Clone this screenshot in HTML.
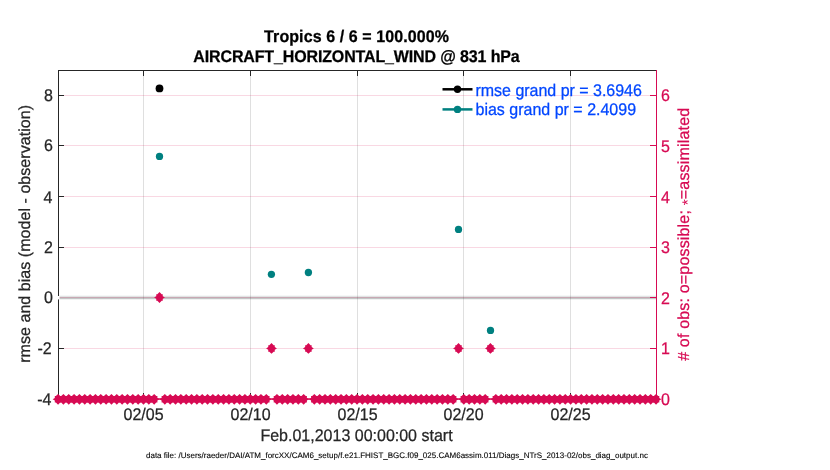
<!DOCTYPE html>
<html><head><meta charset="utf-8"><title>Tropics AIRCRAFT_HORIZONTAL_WIND @ 831 hPa</title>
<style>
html,body{margin:0;padding:0;background:#fff;}
body{width:830px;height:470px;overflow:hidden;}
svg{display:block;will-change:transform;}
text{text-rendering:geometricPrecision;font-family:"Liberation Sans",Arial,Helvetica,sans-serif;}
</style></head><body>
<svg width="830" height="470" viewBox="0 0 830 470">
<rect width="830" height="470" fill="#fff"/>
<rect x="59" y="295" width="597" height="1" fill="#f6f8f8"/>
<rect x="59" y="296" width="597" height="1" fill="#e1e4e4"/>
<rect x="59" y="297" width="597" height="1" fill="#c5c6c6"/>
<rect x="59" y="298" width="597" height="1" fill="#c3c6c6"/>
<rect x="59" y="299" width="597" height="1" fill="#f0f2f2"/>
<line x1="143.5" y1="71" x2="143.5" y2="399" stroke="#262626" stroke-opacity="0.15" stroke-width="1"/>
<line x1="250.5" y1="71" x2="250.5" y2="399" stroke="#262626" stroke-opacity="0.15" stroke-width="1"/>
<line x1="357.5" y1="71" x2="357.5" y2="399" stroke="#262626" stroke-opacity="0.15" stroke-width="1"/>
<line x1="463.5" y1="71" x2="463.5" y2="399" stroke="#262626" stroke-opacity="0.15" stroke-width="1"/>
<line x1="570.5" y1="71" x2="570.5" y2="399" stroke="#262626" stroke-opacity="0.15" stroke-width="1"/>
<line x1="59" y1="95.5" x2="656" y2="95.5" stroke="#d70a53" stroke-opacity="0.16" stroke-width="1"/>
<line x1="59" y1="145.5" x2="656" y2="145.5" stroke="#d70a53" stroke-opacity="0.16" stroke-width="1"/>
<line x1="59" y1="196.5" x2="656" y2="196.5" stroke="#d70a53" stroke-opacity="0.16" stroke-width="1"/>
<line x1="59" y1="247.5" x2="656" y2="247.5" stroke="#d70a53" stroke-opacity="0.16" stroke-width="1"/>
<line x1="59" y1="297.5" x2="656" y2="297.5" stroke="#d70a53" stroke-opacity="0.16" stroke-width="1"/>
<line x1="59" y1="348.5" x2="656" y2="348.5" stroke="#d70a53" stroke-opacity="0.16" stroke-width="1"/>
<line x1="58" y1="70.5" x2="657" y2="70.5" stroke="#262626" stroke-width="1"/>
<line x1="58.5" y1="70" x2="58.5" y2="400" stroke="#262626" stroke-width="1"/>
<line x1="59" y1="95.5" x2="64" y2="95.5" stroke="#262626" stroke-width="1"/>
<line x1="59" y1="145.5" x2="64" y2="145.5" stroke="#262626" stroke-width="1"/>
<line x1="59" y1="196.5" x2="64" y2="196.5" stroke="#262626" stroke-width="1"/>
<line x1="59" y1="247.5" x2="64" y2="247.5" stroke="#262626" stroke-width="1"/>
<line x1="59" y1="348.5" x2="64" y2="348.5" stroke="#262626" stroke-width="1"/>
<rect x="57.5" y="296" width="2" height="3.4" fill="#fff"/>
<line x1="143.5" y1="71" x2="143.5" y2="76" stroke="#262626" stroke-width="1"/>
<line x1="143.5" y1="393" x2="143.5" y2="399" stroke="#262626" stroke-width="1"/>
<line x1="250.5" y1="71" x2="250.5" y2="76" stroke="#262626" stroke-width="1"/>
<line x1="250.5" y1="393" x2="250.5" y2="399" stroke="#262626" stroke-width="1"/>
<line x1="357.5" y1="71" x2="357.5" y2="76" stroke="#262626" stroke-width="1"/>
<line x1="357.5" y1="393" x2="357.5" y2="399" stroke="#262626" stroke-width="1"/>
<line x1="463.5" y1="71" x2="463.5" y2="76" stroke="#262626" stroke-width="1"/>
<line x1="463.5" y1="393" x2="463.5" y2="399" stroke="#262626" stroke-width="1"/>
<line x1="570.5" y1="71" x2="570.5" y2="76" stroke="#262626" stroke-width="1"/>
<line x1="570.5" y1="393" x2="570.5" y2="399" stroke="#262626" stroke-width="1"/>
<line x1="656.5" y1="70" x2="656.5" y2="400" stroke="#d70a53" stroke-width="1"/>
<line x1="650" y1="95.5" x2="656" y2="95.5" stroke="#d70a53" stroke-width="1"/>
<line x1="650" y1="145.5" x2="656" y2="145.5" stroke="#d70a53" stroke-width="1"/>
<line x1="650" y1="196.5" x2="656" y2="196.5" stroke="#d70a53" stroke-width="1"/>
<line x1="650" y1="247.5" x2="656" y2="247.5" stroke="#d70a53" stroke-width="1"/>
<line x1="650" y1="297.5" x2="656" y2="297.5" stroke="#d70a53" stroke-width="1"/>
<line x1="650" y1="348.5" x2="656" y2="348.5" stroke="#d70a53" stroke-width="1"/>
<line x1="58" y1="399.1" x2="657" y2="399.1" stroke="#d70a53" stroke-width="1.5"/>
<defs><path id="m" fill="#d70a53" d="M0 -5.4L2.15 -3.25L3.25 -3.25L3.25 -1.3L5.4 0L3.25 1.3L3.25 3.25L2.15 3.25L0 5.4L-2.15 3.25L-3.25 3.25L-3.25 1.3L-5.4 0L-3.25 -1.3L-3.25 -3.25L-2.15 -3.25Z"/></defs>
<use href="#m" x="58.06" y="399.30"/>
<use href="#m" x="63.40" y="399.30"/>
<use href="#m" x="68.74" y="399.30"/>
<use href="#m" x="74.08" y="399.30"/>
<use href="#m" x="79.42" y="399.30"/>
<use href="#m" x="84.75" y="399.30"/>
<use href="#m" x="90.09" y="399.30"/>
<use href="#m" x="95.43" y="399.30"/>
<use href="#m" x="100.77" y="399.30"/>
<use href="#m" x="106.11" y="399.30"/>
<use href="#m" x="111.45" y="399.30"/>
<use href="#m" x="116.79" y="399.30"/>
<use href="#m" x="122.13" y="399.30"/>
<use href="#m" x="127.47" y="399.30"/>
<use href="#m" x="132.81" y="399.30"/>
<use href="#m" x="138.15" y="399.30"/>
<use href="#m" x="143.48" y="399.30"/>
<use href="#m" x="148.82" y="399.30"/>
<use href="#m" x="154.16" y="399.30"/>
<use href="#m" x="159.50" y="297.50"/>
<use href="#m" x="164.84" y="399.30"/>
<use href="#m" x="170.18" y="399.30"/>
<use href="#m" x="175.52" y="399.30"/>
<use href="#m" x="180.86" y="399.30"/>
<use href="#m" x="186.20" y="399.30"/>
<use href="#m" x="191.54" y="399.30"/>
<use href="#m" x="196.87" y="399.30"/>
<use href="#m" x="202.21" y="399.30"/>
<use href="#m" x="207.55" y="399.30"/>
<use href="#m" x="212.89" y="399.30"/>
<use href="#m" x="218.23" y="399.30"/>
<use href="#m" x="223.57" y="399.30"/>
<use href="#m" x="228.91" y="399.30"/>
<use href="#m" x="234.25" y="399.30"/>
<use href="#m" x="239.59" y="399.30"/>
<use href="#m" x="244.93" y="399.30"/>
<use href="#m" x="250.26" y="399.30"/>
<use href="#m" x="255.60" y="399.30"/>
<use href="#m" x="260.94" y="399.30"/>
<use href="#m" x="266.28" y="399.30"/>
<use href="#m" x="271.50" y="348.40"/>
<use href="#m" x="276.96" y="399.30"/>
<use href="#m" x="282.30" y="399.30"/>
<use href="#m" x="287.64" y="399.30"/>
<use href="#m" x="292.98" y="399.30"/>
<use href="#m" x="298.32" y="399.30"/>
<use href="#m" x="303.65" y="399.30"/>
<use href="#m" x="308.40" y="348.40"/>
<use href="#m" x="314.33" y="399.30"/>
<use href="#m" x="319.67" y="399.30"/>
<use href="#m" x="325.01" y="399.30"/>
<use href="#m" x="330.35" y="399.30"/>
<use href="#m" x="335.69" y="399.30"/>
<use href="#m" x="341.03" y="399.30"/>
<use href="#m" x="346.37" y="399.30"/>
<use href="#m" x="351.71" y="399.30"/>
<use href="#m" x="357.04" y="399.30"/>
<use href="#m" x="362.38" y="399.30"/>
<use href="#m" x="367.72" y="399.30"/>
<use href="#m" x="373.06" y="399.30"/>
<use href="#m" x="378.40" y="399.30"/>
<use href="#m" x="383.74" y="399.30"/>
<use href="#m" x="389.08" y="399.30"/>
<use href="#m" x="394.42" y="399.30"/>
<use href="#m" x="399.76" y="399.30"/>
<use href="#m" x="405.10" y="399.30"/>
<use href="#m" x="410.43" y="399.30"/>
<use href="#m" x="415.77" y="399.30"/>
<use href="#m" x="421.11" y="399.30"/>
<use href="#m" x="426.45" y="399.30"/>
<use href="#m" x="431.79" y="399.30"/>
<use href="#m" x="437.13" y="399.30"/>
<use href="#m" x="442.47" y="399.30"/>
<use href="#m" x="447.81" y="399.30"/>
<use href="#m" x="453.15" y="399.30"/>
<use href="#m" x="458.50" y="348.40"/>
<use href="#m" x="463.82" y="399.30"/>
<use href="#m" x="469.16" y="399.30"/>
<use href="#m" x="474.50" y="399.30"/>
<use href="#m" x="479.84" y="399.30"/>
<use href="#m" x="485.18" y="399.30"/>
<use href="#m" x="490.40" y="348.40"/>
<use href="#m" x="495.86" y="399.30"/>
<use href="#m" x="501.20" y="399.30"/>
<use href="#m" x="506.54" y="399.30"/>
<use href="#m" x="511.88" y="399.30"/>
<use href="#m" x="517.21" y="399.30"/>
<use href="#m" x="522.55" y="399.30"/>
<use href="#m" x="527.89" y="399.30"/>
<use href="#m" x="533.23" y="399.30"/>
<use href="#m" x="538.57" y="399.30"/>
<use href="#m" x="543.91" y="399.30"/>
<use href="#m" x="549.25" y="399.30"/>
<use href="#m" x="554.59" y="399.30"/>
<use href="#m" x="559.93" y="399.30"/>
<use href="#m" x="565.27" y="399.30"/>
<use href="#m" x="570.60" y="399.30"/>
<use href="#m" x="575.94" y="399.30"/>
<use href="#m" x="581.28" y="399.30"/>
<use href="#m" x="586.62" y="399.30"/>
<use href="#m" x="591.96" y="399.30"/>
<use href="#m" x="597.30" y="399.30"/>
<use href="#m" x="602.64" y="399.30"/>
<use href="#m" x="607.98" y="399.30"/>
<use href="#m" x="613.32" y="399.30"/>
<use href="#m" x="618.65" y="399.30"/>
<use href="#m" x="623.99" y="399.30"/>
<use href="#m" x="629.33" y="399.30"/>
<use href="#m" x="634.67" y="399.30"/>
<use href="#m" x="640.01" y="399.30"/>
<use href="#m" x="645.35" y="399.30"/>
<use href="#m" x="650.69" y="399.30"/>
<use href="#m" x="656.03" y="399.30"/>
<circle cx="159.5" cy="88.4" r="3.9" fill="#000"/>
<circle cx="159.5" cy="156.4" r="3.65" fill="#008080"/>
<circle cx="271.4" cy="274.3" r="3.65" fill="#008080"/>
<circle cx="308.4" cy="272.5" r="3.65" fill="#008080"/>
<circle cx="458.5" cy="229.4" r="3.65" fill="#008080"/>
<circle cx="490.5" cy="330.4" r="3.65" fill="#008080"/>
<line x1="442.5" y1="89.3" x2="472.5" y2="89.3" stroke="#000" stroke-width="2.5"/><circle cx="457.5" cy="89.3" r="3.7" fill="#000"/>
<line x1="442.5" y1="109.4" x2="472.5" y2="109.4" stroke="#008080" stroke-width="2.5"/><circle cx="457.5" cy="109.4" r="3.7" fill="#008080"/>
<text transform="translate(475.5 96) scale(1 1.055)" font-size="16" textLength="166.4" fill="#0046ff" stroke="#0046ff" stroke-width="0.25">rmse grand pr = 3.6946</text>
<text transform="translate(475.5 115.2) scale(1 1.055)" font-size="16" fill="#0046ff" stroke="#0046ff" stroke-width="0.25">bias grand pr = 2.4099</text>
<text transform="translate(356.5 41.9) scale(1 1.055)" font-size="16" font-weight="bold" text-anchor="middle" textLength="184.8" fill="#000" stroke="#000" stroke-width="0.25">Tropics 6 / 6 = 100.000%</text>
<text transform="translate(356.5 61.9) scale(1 1.055)" font-size="16" font-weight="bold" text-anchor="middle" textLength="326.4" fill="#000" stroke="#000" stroke-width="0.25">AIRCRAFT_HORIZONTAL_WIND @ 831 hPa</text>
<text transform="translate(52.8 101.2) scale(1 1.055)" font-size="16" text-anchor="end" fill="#262626" stroke="#262626" stroke-width="0.25">8</text>
<text transform="translate(52.8 151.2) scale(1 1.055)" font-size="16" text-anchor="end" fill="#262626" stroke="#262626" stroke-width="0.25">6</text>
<text transform="translate(52.3 202.8) scale(1 1.055)" font-size="16" text-anchor="end" fill="#262626" stroke="#262626" stroke-width="0.25">4</text>
<text transform="translate(52.8 253.2) scale(1 1.055)" font-size="16" text-anchor="end" fill="#262626" stroke="#262626" stroke-width="0.25">2</text>
<text transform="translate(52.8 303.2) scale(1 1.055)" font-size="16" text-anchor="end" fill="#262626" stroke="#262626" stroke-width="0.25">0</text>
<text transform="translate(51.7 354.2) scale(1 1.055)" font-size="16" text-anchor="end" fill="#262626" stroke="#262626" stroke-width="0.25">-2</text>
<text transform="translate(51.5 405.0) scale(1 1.055)" font-size="16" text-anchor="end" fill="#262626" stroke="#262626" stroke-width="0.25">-4</text>
<text transform="translate(661 405.0) scale(1 1.055)" font-size="16" fill="#d70a53" stroke="#d70a53" stroke-width="0.25">0</text>
<text transform="translate(661 354.2) scale(1 1.055)" font-size="16" fill="#d70a53" stroke="#d70a53" stroke-width="0.25">1</text>
<text transform="translate(661 303.9) scale(1 1.055)" font-size="16" fill="#d70a53" stroke="#d70a53" stroke-width="0.25">2</text>
<text transform="translate(661 253.2) scale(1 1.055)" font-size="16" fill="#d70a53" stroke="#d70a53" stroke-width="0.25">3</text>
<text transform="translate(661 202.8) scale(1 1.055)" font-size="16" fill="#d70a53" stroke="#d70a53" stroke-width="0.25">4</text>
<text transform="translate(661 151.7) scale(1 1.055)" font-size="16" fill="#d70a53" stroke="#d70a53" stroke-width="0.25">5</text>
<text transform="translate(661 101.2) scale(1 1.055)" font-size="16" fill="#d70a53" stroke="#d70a53" stroke-width="0.25">6</text>
<text transform="translate(143.5 419.6) scale(1 1.055)" font-size="16" text-anchor="middle" fill="#262626" stroke="#262626" stroke-width="0.25">02/05</text>
<text transform="translate(250.5 419.6) scale(1 1.055)" font-size="16" text-anchor="middle" fill="#262626" stroke="#262626" stroke-width="0.25">02/10</text>
<text transform="translate(357.5 419.6) scale(1 1.055)" font-size="16" text-anchor="middle" fill="#262626" stroke="#262626" stroke-width="0.25">02/15</text>
<text transform="translate(463.5 419.6) scale(1 1.055)" font-size="16" text-anchor="middle" fill="#262626" stroke="#262626" stroke-width="0.25">02/20</text>
<text transform="translate(570.5 419.6) scale(1 1.055)" font-size="16" text-anchor="middle" fill="#262626" stroke="#262626" stroke-width="0.25">02/25</text>
<text transform="translate(356.5 440.7) scale(1 1.055)" font-size="16" text-anchor="middle" fill="#262626" stroke="#262626" stroke-width="0.25">Feb.01,2013 00:00:00 start</text>
<text transform="translate(30,233.9) rotate(-90)" font-size="16" text-anchor="middle" textLength="257.8" fill="#262626" stroke="#262626" stroke-width="0.25">rmse and bias (model - observation)</text>
<text transform="translate(689.3,234.35) rotate(-90)" font-size="16" text-anchor="middle" textLength="253" fill="#d70a53" stroke="#d70a53" stroke-width="0.25"># of obs: o=possible; <tspan dy="3.6" font-size="15.5" stroke-width="0">*</tspan><tspan dy="-3.6">=assimilated</tspan></text>
<text x="146" y="457.8" font-size="8" fill="#000" stroke="#000" stroke-width="0.1">data file: /Users/raeder/DAI/ATM_forcXX/CAM6_setup/f.e21.FHIST_BGC.f09_025.CAM6assim.011/Diags_NTrS_2013-02/obs_diag_output.nc</text>
</svg>
</body></html>
